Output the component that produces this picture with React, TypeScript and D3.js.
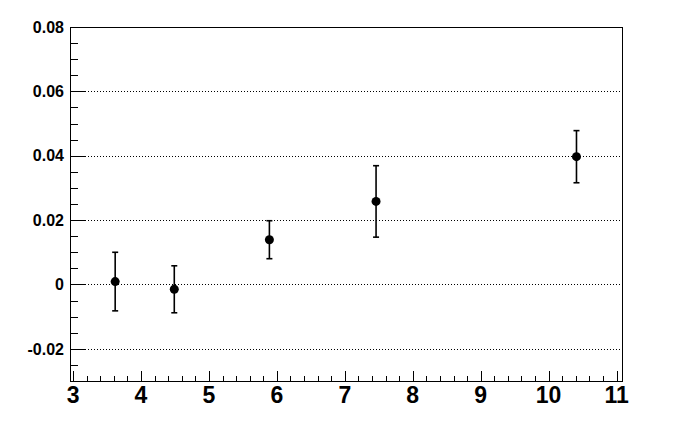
import * as d3 from "d3";

// measured points (x, y, symmetric error on y)
const xValues = [3.62, 4.49, 5.89, 7.46, 10.41];
const yValues = [0.0009, -0.0015, 0.0139, 0.0258, 0.0397];
const yErrors = [0.0091, 0.0073, 0.0059, 0.0111, 0.0081];

const xTickLabels = [3, 4, 5, 6, 7, 8, 9, 10, 11];
const yTickLabels = [-0.02, 0, 0.02, 0.04, 0.06, 0.08];

const W = 692;
const H = 444;
const left = 70;
const right = 622;
const top = 27;
const bottom = 381;

export default function App() {
  const x = d3.scaleLinear().domain([2.955, 11.08]).range([left, right]);
  const y = d3.scaleLinear().domain([-0.03, 0.08]).range([bottom, top]);

  const xMinor = d3.range(3, 11.001, 0.2).filter(v => Math.abs(v - Math.round(v)) > 1e-6);
  const yMinor = d3.range(-0.025, 0.0801, 0.005).filter(v => Math.abs(v / 0.02 - Math.round(v / 0.02)) > 1e-6);
  const px = (v: number) => Math.round(v) + 0.5;
  const font = "'Liberation Sans', Arial, Helvetica, sans-serif";

  return (
    <svg width={W} height={H} style={{ position: "absolute", left: 0, top: 0, background: "#fff" }}>
      <rect x={0} y={0} width={W} height={H} fill="#fff" />

      {/* dotted grid at the major y ticks */}
      {yTickLabels.filter(v => v < 0.08).map(v => (
        <line key={"g" + v} x1={left} x2={right} y1={px(y(v))} y2={px(y(v))}
          stroke="#000" strokeWidth={1} strokeDasharray="1,2" shapeRendering="crispEdges" />
      ))}

      {/* frame */}
      <rect x={left + 0.5} y={top + 0.5} width={right - left} height={bottom - top}
        fill="none" stroke="#000" strokeWidth={1} shapeRendering="crispEdges" />

      {/* x ticks */}
      {xTickLabels.map(v => (
        <line key={"xt" + v} x1={px(x(v))} x2={px(x(v))} y1={bottom} y2={bottom - 10}
          stroke="#000" strokeWidth={1} shapeRendering="crispEdges" />
      ))}
      {xMinor.map(v => (
        <line key={"xm" + v} x1={px(x(v))} x2={px(x(v))} y1={bottom} y2={bottom - 5}
          stroke="#000" strokeWidth={1} shapeRendering="crispEdges" />
      ))}
      {xTickLabels.map(v => (
        <text key={"xl" + v} x={x(v)} y={bottom + 22} textAnchor="middle"
          fontFamily={font} fontWeight="bold" fontSize={23}>{v}</text>
      ))}

      {/* y ticks */}
      {yTickLabels.map(v => (
        <line key={"yt" + v} x1={left} x2={left + 16} y1={px(y(v))} y2={px(y(v))}
          stroke="#000" strokeWidth={1} shapeRendering="crispEdges" />
      ))}
      {yMinor.map(v => (
        <line key={"ym" + v} x1={left} x2={left + 8} y1={px(y(v))} y2={px(y(v))}
          stroke="#000" strokeWidth={1} shapeRendering="crispEdges" />
      ))}
      {yTickLabels.map(v => (
        <text key={"yl" + v} x={left - 6} y={y(v)} dy="0.36em" textAnchor="end"
          fontFamily={font} fontWeight="bold" fontSize={16}>{v === 0 ? "0" : String(v)}</text>
      ))}

      {/* error bars and markers */}
      {xValues.map((xv, i) => {
        const cx = x(xv);
        const y0 = y(yValues[i] - yErrors[i]);
        const y1 = y(yValues[i] + yErrors[i]);
        return (
          <g key={"p" + i} stroke="#000" strokeWidth={1.6}>
            <line x1={cx} x2={cx} y1={y0} y2={y1} />
            <line x1={cx - 3} x2={cx + 3} y1={y0} y2={y0} />
            <line x1={cx - 3} x2={cx + 3} y1={y1} y2={y1} />
            <circle cx={cx} cy={y(yValues[i])} r={4.5} fill="#000" stroke="none" />
          </g>
        );
      })}
    </svg>
  );
}
